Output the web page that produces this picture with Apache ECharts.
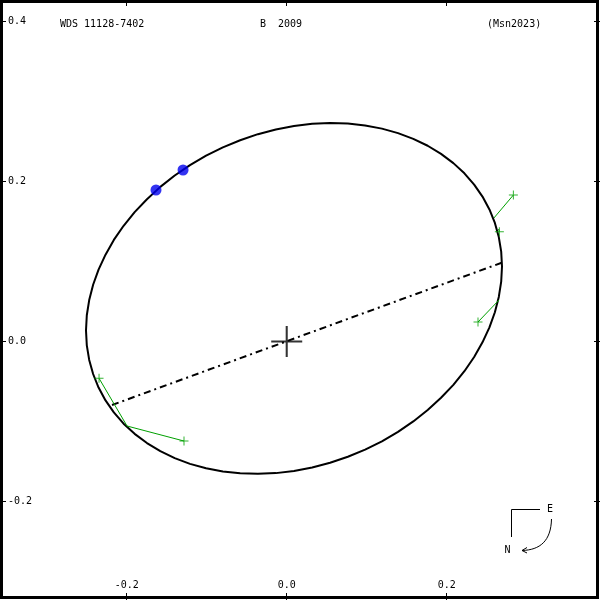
<!DOCTYPE html>
<html>
<head>
<meta charset="utf-8">
<script src="https://cdn.jsdelivr.net/npm/echarts@6/dist/echarts.min.js"></script>
<style>html,body{margin:0;padding:0;background:#fff}#c{width:600px;height:600px}</style>
</head>
<body>
<div id="c"></div>
<script>
// Apparent orbit, arcsec
var orbitX = [0.2691,0.2681,0.2651,0.2602,0.2534,0.2447,0.2343,0.2221,0.2083,0.1929,0.1762,0.1582,0.1391,0.1190,0.0980,0.0764,0.0542,0.0318,0.0091,-0.0136,-0.0360,-0.0582,-0.0798,-0.1008,-0.1209,-0.1400,-0.1580,-0.1747,-0.1901,-0.2039,-0.2161,-0.2265,-0.2352,-0.2420,-0.2469,-0.2499,-0.2509,-0.2499,-0.2469,-0.2420,-0.2352,-0.2265,-0.2161,-0.2039,-0.1901,-0.1747,-0.1580,-0.1400,-0.1209,-0.1008,-0.0798,-0.0582,-0.0360,-0.0136,0.0091,0.0318,0.0542,0.0764,0.0980,0.1190,0.1391,0.1582,0.1762,0.1929,0.2083,0.2221,0.2343,0.2447,0.2534,0.2602,0.2651,0.2681,0.2691];
var orbitY = [0.0938,0.1124,0.1306,0.1482,0.1651,0.1812,0.1962,0.2103,0.2230,0.2345,0.2447,0.2533,0.2605,0.2661,0.2701,0.2724,0.2730,0.2721,0.2694,0.2651,0.2592,0.2516,0.2427,0.2323,0.2205,0.2075,0.1933,0.1779,0.1618,0.1447,0.1270,0.1086,0.0899,0.0710,0.0518,0.0328,0.0138,-0.0048,-0.0230,-0.0406,-0.0575,-0.0736,-0.0886,-0.1027,-0.1154,-0.1269,-0.1371,-0.1457,-0.1529,-0.1585,-0.1625,-0.1648,-0.1654,-0.1645,-0.1618,-0.1575,-0.1516,-0.1440,-0.1351,-0.1247,-0.1129,-0.0999,-0.0857,-0.0703,-0.0542,-0.0371,-0.0194,-0.0010,0.0177,0.0366,0.0558,0.0748,0.0938];
// Line of nodes endpoints
var nodesX = [-0.2184, 0.2687];
var nodesY = [-0.0794, 0.0985];
// Observations and predicted positions
var obsX  = [0.2833, 0.2658, 0.2391, -0.2346, -0.1284];
var obsY  = [0.1831, 0.1373, 0.0244, -0.0460, -0.1244];
var predX = [0.2590, 0.2648, 0.2654, -0.1996, -0.1996];
var predY = [0.1544, 0.1406, 0.0519, -0.1056, -0.1056];
// Blue points
var dotX = [-0.1634, -0.1296];
var dotY = [0.1894, 0.2144];
// Axis ticks
var xTicks = [-0.2, 0.0, 0.2];
var yTicks = [0.4, 0.2, 0.0, -0.2];
var titleLeft = 'WDS 11128-7402';
var titleMid = 'B  2009';
var titleRight = '(Msn2023)';

var FONT = 'DejaVu Sans Mono';
var fmt = function (v) { return Number(v).toFixed(1); };

var series = [];
series.push({
  type: 'line', showSymbol: false, silent: true,
  data: orbitX.map(function (x, i) { return [x, orbitY[i]]; }),
  lineStyle: { color: '#000', width: 2, join: 'round' }, z: 3
});
series.push({
  type: 'line', showSymbol: false, silent: true,
  data: nodesX.map(function (x, i) { return [x, nodesY[i]]; }),
  lineStyle: { color: '#000', width: 2, type: [7, 4, 2, 4] }, z: 2
});
obsX.forEach(function (x, i) {
  series.push({
    type: 'line', showSymbol: false, silent: true,
    data: [[x, obsY[i]], [predX[i], predY[i]]],
    lineStyle: { color: '#00a000', width: 1 }, z: 4
  });
});
series.push({
  type: 'scatter', silent: true,
  symbol: 'path://M-0.5,-4.5H0.5V4.5H-0.5Z M-4.5,-0.5H4.5V0.5H-4.5Z', symbolSize: 9,
  itemStyle: { color: '#00a000' },
  data: obsX.map(function (x, i) { return [x, obsY[i]]; }), z: 5
});
series.push({
  type: 'scatter', silent: true, symbol: 'circle', symbolSize: 11,
  itemStyle: { color: '#0000ee' },
  data: dotX.map(function (x, i) { return [x, dotY[i]]; }), z: 6
});
series.push({
  type: 'scatter', silent: true,
  symbol: 'path://M-1,-15H1V15H-1Z M-15,-1H15V1H-15Z', symbolSize: 31,
  itemStyle: { color: '#000' },
  data: [[0, 0]], z: 6
});

var chart = echarts.init(document.getElementById('c'), null, { renderer: 'canvas' });
var axisBase = {
  type: 'value', axisLine: { show: false, onZero: false }, splitLine: { show: false }
};
chart.setOption({
  animation: false,
  backgroundColor: '#fff',
  grid: { left: 0, right: 0, top: 0, bottom: 0 },
  xAxis: [
    Object.assign({}, axisBase, {
      position: 'bottom', min: -0.3584, max: 0.3916,
      axisTick: { inside: true, length: 7, customValues: xTicks, lineStyle: { color: '#000' } },
      axisLabel: { inside: true, margin: 10, customValues: xTicks, formatter: fmt,
        color: '#000', fontFamily: FONT, fontSize: 10 }
    }),
    Object.assign({}, axisBase, {
      position: 'top', min: -0.3584, max: 0.3916,
      axisTick: { inside: true, length: 6, customValues: xTicks, lineStyle: { color: '#000' } },
      axisLabel: { show: false }
    })
  ],
  yAxis: [
    Object.assign({}, axisBase, {
      position: 'left', min: -0.3231, max: 0.4269,
      axisTick: { inside: true, length: 6, customValues: yTicks, lineStyle: { color: '#000' } },
      axisLabel: { inside: true, margin: 8, customValues: yTicks, formatter: fmt,
        color: '#000', fontFamily: FONT, fontSize: 10 }
    }),
    Object.assign({}, axisBase, {
      position: 'right', min: -0.3231, max: 0.4269,
      axisTick: { inside: true, length: 6, customValues: yTicks, lineStyle: { color: '#000' } },
      axisLabel: { show: false }
    })
  ],
  graphic: [
    { type: 'rect', silent: true, z: 100, shape: { x: 1.5, y: 1.5, width: 596, height: 596 },
      style: { fill: null, stroke: '#000', lineWidth: 3 } },
    { type: 'text', silent: true, x: 60, y: 24, style: { text: titleLeft, font: '10px "DejaVu Sans Mono"', fill: '#000', verticalAlign: 'middle' } },
    { type: 'text', silent: true, x: 260, y: 24, style: { text: titleMid, font: '10px "DejaVu Sans Mono"', fill: '#000', verticalAlign: 'middle' } },
    { type: 'text', silent: true, x: 487, y: 24, style: { text: titleRight, font: '10px "DejaVu Sans Mono"', fill: '#000', verticalAlign: 'middle' } },
    { type: 'polyline', silent: true, shape: { points: [[540, 509.5], [511.5, 509.5], [511.5, 537]] }, style: { stroke: '#000', lineWidth: 1, fill: null } },
    { type: 'text', silent: true, x: 550, y: 509.5, style: { text: 'E', font: '10px "DejaVu Sans Mono"', fill: '#000', align: 'center', verticalAlign: 'middle' } },
    { type: 'text', silent: true, x: 507.5, y: 550, style: { text: 'N', font: '10px "DejaVu Sans Mono"', fill: '#000', align: 'center', verticalAlign: 'middle' } },
    { type: 'bezierCurve', silent: true, shape: { x1: 551.5, y1: 519, cpx1: 551, cpy1: 541, cpx2: 540, cpy2: 550, x2: 522, y2: 550.5 }, style: { stroke: '#000', lineWidth: 1, fill: null } },
    { type: 'polyline', silent: true, shape: { points: [[527, 547.5], [522, 550.5], [527, 553]] }, style: { stroke: '#000', lineWidth: 1, fill: null } }
  ],
  series: series
});
</script>
</body>
</html>
